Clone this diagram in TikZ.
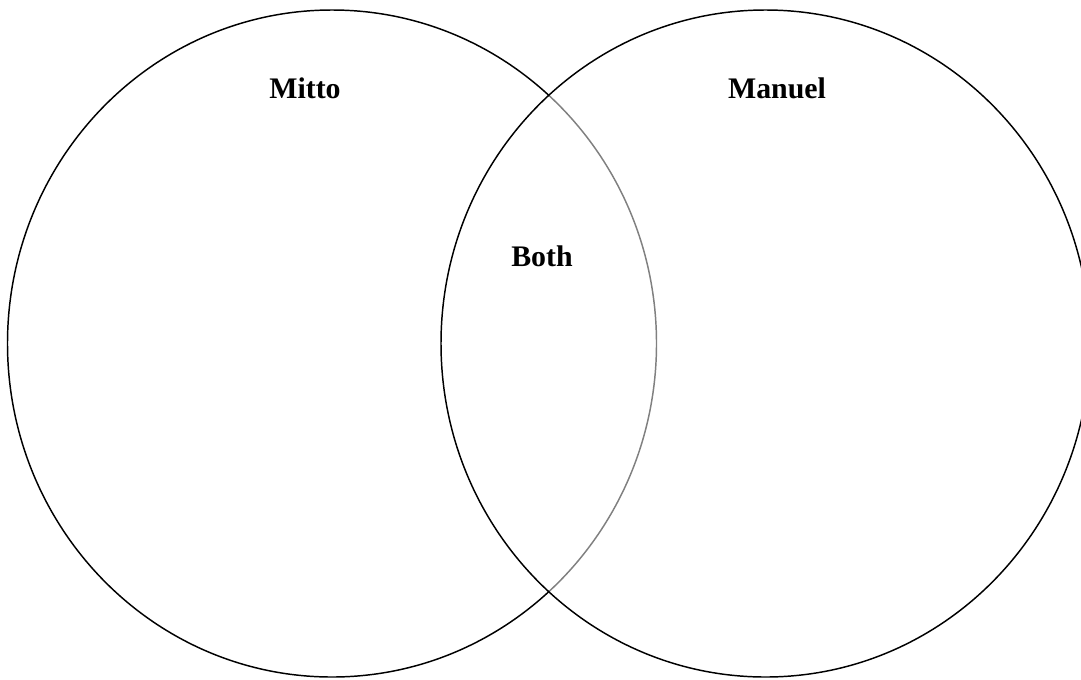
\documentclass[tikz,border=0pt]{standalone}
\usepackage{fontspec}
\setmainfont{Liberation Serif}
\usetikzlibrary{shapes.geometric}

\tikzset{
  setshape/.style={ellipse,draw=black,line width=1.1pt,inner sep=0pt,
    minimum width=486.75pt,minimum height=500.25pt},
  setlabel/.style={font=\fontsize{22.4}{26}\selectfont\bfseries,inner sep=0pt}
}

\begin{document}
\begin{tikzpicture}[x=0.75pt,y=-0.75pt]
\useasboundingbox (0,0) rectangle (1081,679);
\clip (0,0) rectangle (1081,679);
% the two sets
\node[setshape] (mitto) at (332,343.5) {};
\node[setshape,fill=white,fill opacity=0.5] (manuel) at (765.5,343.5) {};
% labels
\node[setlabel] (mittolabel) at (305,88) {Mitto};
\node[setlabel] (manuellabel) at (777,88) {Manuel};
\node[setlabel] (bothlabel) at (542,256) {Both};
\end{tikzpicture}
\end{document}
